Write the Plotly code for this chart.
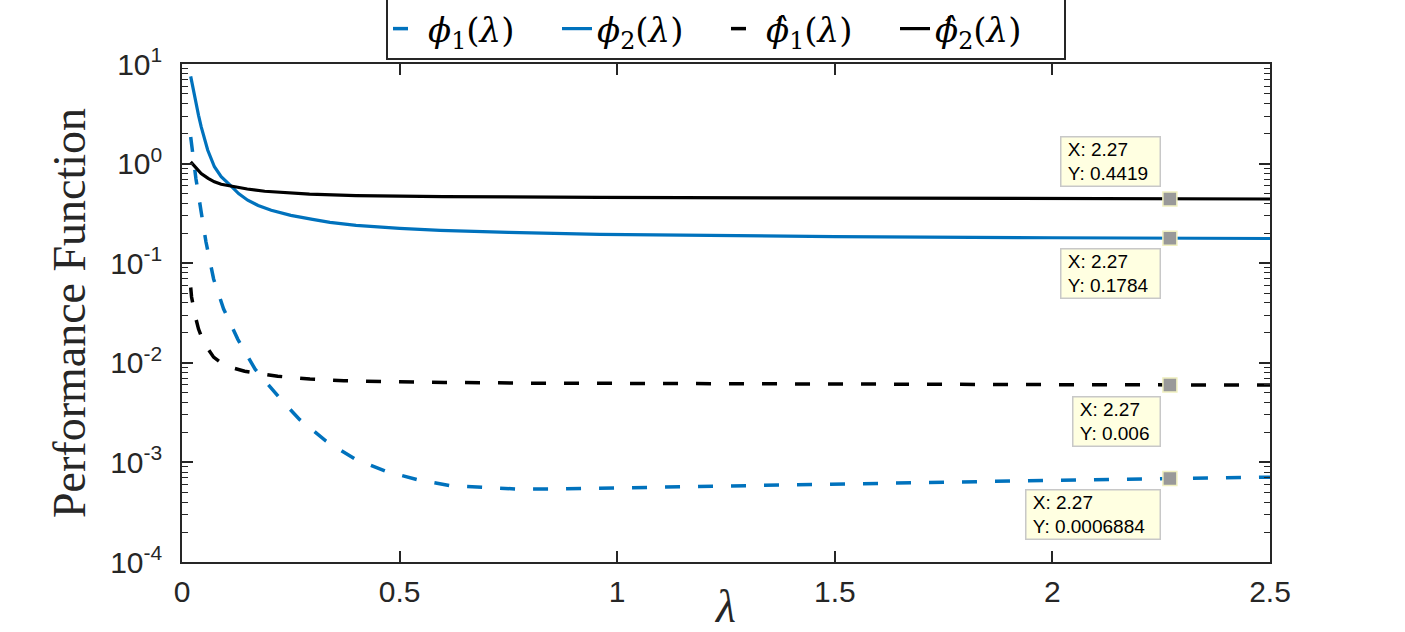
import numpy as np
import plotly.graph_objects as go

# ---------------- data ----------------
lam_phi1 = [0.02, 0.032, 0.044, 0.055, 0.0726, 0.0956, 0.128, 0.168, 0.227, 0.27,
            0.331, 0.396, 0.467, 0.54, 0.616, 0.695, 0.771, 0.847, 0.925, 1.0,
            1.1, 1.3, 1.5, 1.75, 2.0, 2.27, 2.5]
phi1 = [1.85, 0.706, 0.329, 0.164, 0.0695, 0.0347, 0.0173, 0.00863, 0.0043, 0.0027,
        0.00164, 0.00109, 0.000818, 0.000673, 0.000585, 0.000558, 0.00054, 0.00054,
        0.000548, 0.000556, 0.000568, 0.00059, 0.00061, 0.00064, 0.00066, 0.0006884, 0.00071]

lam_phi2 = [0.02, 0.026, 0.032, 0.038, 0.044, 0.051, 0.059, 0.0745, 0.09, 0.113, 0.13,
            0.151, 0.175, 0.205, 0.25, 0.3, 0.34, 0.4, 0.5, 0.593, 0.75, 0.96, 1.25,
            1.5, 2.0, 2.27, 2.5]
phi2 = [7.5, 5.4, 4.04, 3.05, 2.35, 1.8, 1.37, 0.93, 0.74, 0.593, 0.5,
        0.429, 0.38, 0.34, 0.302, 0.275, 0.257, 0.24, 0.224, 0.214, 0.204, 0.195, 0.189,
        0.185, 0.18, 0.1784, 0.177]

lam_phi1h = [0.02, 0.022, 0.03, 0.038, 0.05, 0.0726, 0.1, 0.144, 0.22, 0.294, 0.372,
             0.448, 0.603, 0.8, 1.13, 1.5, 2.0, 2.27, 2.5]
phi1h = [0.057, 0.0458, 0.03, 0.0218, 0.016, 0.0114, 0.0093, 0.00823, 0.00733, 0.00687,
         0.0066, 0.0065, 0.00635, 0.00625, 0.00616, 0.0061, 0.00604, 0.006, 0.00598]

lam_phi2h = [0.02, 0.03, 0.044, 0.06, 0.0745, 0.09, 0.113, 0.15, 0.19, 0.24, 0.293, 0.4,
             0.6, 0.96, 1.5, 2.0, 2.27, 2.5]
phi2h = [1.04, 0.92, 0.796, 0.71, 0.656, 0.62, 0.593, 0.556, 0.528, 0.507, 0.493, 0.478,
         0.467, 0.457, 0.449, 0.444, 0.4419, 0.441]

tip_x = 2.27
tip_y = [0.4419, 0.1784, 0.006, 0.0006884]
tip_x_text = ["2.27", "2.27", "2.27", "2.27"]
tip_y_text = ["0.4419", "0.1784", "0.006", "0.0006884"]

x_tickvals = [0, 0.5, 1, 1.5, 2, 2.5]
x_ticktext = ["0", "0.5", "1", "1.5", "2", "2.5"]
y_exponents = [-4, -3, -2, -1, 0, 1]

legend_names = [
    "<i>ϕ</i><sub>1</sub>(<i>λ</i>)",
    "<i>ϕ</i><sub>2</sub>(<i>λ</i>)",
    "<i>ϕ\u0302</i><sub>1</sub>(<i>λ</i>)",
    "<i>ϕ\u0302</i><sub>2</sub>(<i>λ</i>)",
]

# ---------------- styles ----------------
BLUE = "#0072BD"
AX = "#262626"
DASH = "15px,18px"
TICKFONT = dict(family="Liberation Sans, Arial, sans-serif", size=30, color=AX)
SERIF = "Liberation Serif, Times New Roman, serif"
LEGSERIF = "DejaVu Serif, serif"

fig = go.Figure()
fig.add_trace(go.Scatter(x=lam_phi1, y=phi1, mode="lines", name=legend_names[0],
                         line=dict(color=BLUE, width=3.5, dash=DASH)))
fig.add_trace(go.Scatter(x=lam_phi2, y=phi2, mode="lines", name=legend_names[1],
                         line=dict(color=BLUE, width=3.2)))
fig.add_trace(go.Scatter(x=lam_phi1h, y=phi1h, mode="lines", name=legend_names[2],
                         line=dict(color="black", width=3.5, dash=DASH)))
fig.add_trace(go.Scatter(x=lam_phi2h, y=phi2h, mode="lines", name=legend_names[3],
                         line=dict(color="black", width=3.2)))

# data-tip markers
fig.add_trace(go.Scatter(x=[tip_x] * len(tip_y), y=tip_y, mode="markers", showlegend=False,
                         marker=dict(symbol="square", size=14, color="#999999",
                                     line=dict(color="#F0F0C0", width=1.5))))

# data-tip boxes (placement offsets are style)
tip_style = [
    dict(xanchor="right", yanchor="bottom", xshift=-9, yshift=12, width=96),
    dict(xanchor="right", yanchor="top", xshift=-9, yshift=-10, width=96),
    dict(xanchor="right", yanchor="top", xshift=-9, yshift=-11, width=84),
    dict(xanchor="right", yanchor="top", xshift=-9, yshift=-10, width=131),
]
for xv, yv, xt, yt, st in zip([tip_x] * 4, tip_y, tip_x_text, tip_y_text, tip_style):
    fig.add_annotation(
        x=xv, y=np.log10(yv), xref="x", yref="y", showarrow=False,
        text="\u00a0X: " + xt + "<br>\u00a0Y: " + yt, align="left",
        font=dict(family="Liberation Sans, Arial, sans-serif", size=19, color="black"),
        bgcolor="#FFFFE1", bordercolor="#C8C8C8", borderwidth=1.5, borderpad=1,
        **st)

fig.update_layout(
    width=1405, height=632,
    margin=dict(l=182, r=135, t=64, b=70, autoexpand=False),
    paper_bgcolor="white", plot_bgcolor="white",
    showlegend=True,
    legend=dict(orientation="h", x=0.5, xanchor="center", y=1.008, yanchor="bottom",
                bgcolor="white", bordercolor=AX, borderwidth=2,
                font=dict(family=LEGSERIF, size=34, color="black"),
                entrywidth=124, entrywidthmode="pixels",
                tracegroupgap=0),
    xaxis=dict(range=[0, 2.5], tickvals=x_tickvals, ticktext=x_ticktext,
               ticks="inside", ticklen=11, tickwidth=1.5, tickcolor=AX,
               showline=True, linecolor=AX, linewidth=1.5, mirror="ticks",
               showgrid=False, zeroline=False, tickfont=TICKFONT,
               ticklabelstandoff=2,
               title=dict(text="<i>λ</i>", font=dict(family=SERIF, size=46, color=AX),
                          standoff=0)),
    yaxis=dict(type="log", range=[-4, 1],
               tickvals=[10.0 ** e for e in y_exponents],
               ticktext=["10<sup>%d</sup>" % e for e in y_exponents],
               ticks="inside", ticklen=11, tickwidth=1.5, tickcolor=AX,
               minor=dict(ticks="inside", ticklen=6, tickwidth=1.2, tickcolor=AX,
                          dtick="D1", showgrid=False),
               showline=True, linecolor=AX, linewidth=1.5, mirror="ticks",
               showgrid=False, zeroline=False, tickfont=TICKFONT,
               ticklabelstandoff=12,
               title=dict(text="Performance Function",
                          font=dict(family=SERIF, size=46, color=AX), standoff=10)),
)

fig.write_html("out.html")
